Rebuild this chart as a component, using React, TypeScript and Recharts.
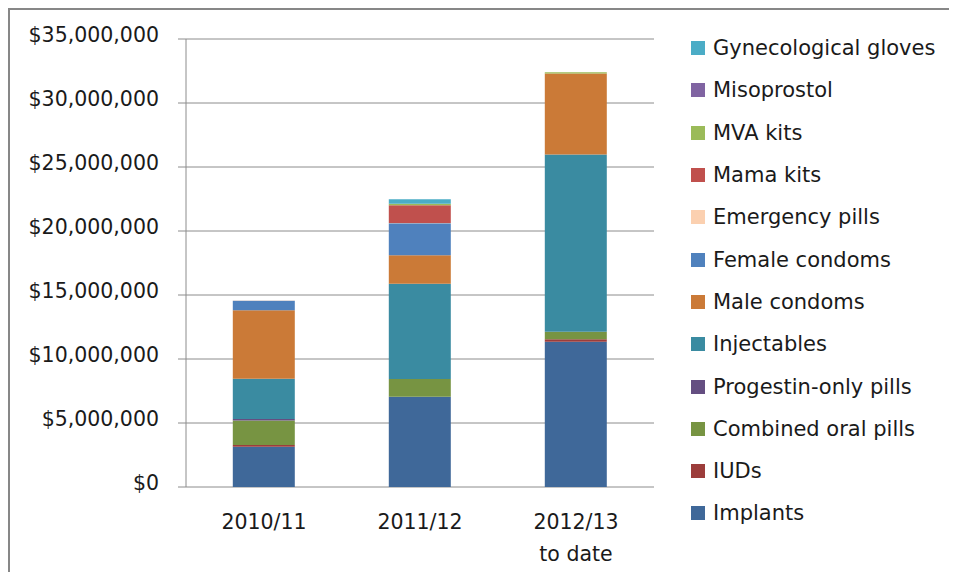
import React from 'react';
import { BarChart, Bar, XAxis, YAxis, CartesianGrid } from 'recharts';

const categories = ['2010/11', '2011/12', '2012/13\nto date'];

const implants = [3150000, 7050000, 11350000];
const iuds = [130000, 0, 200000];
const combinedOral = [1920000, 1380000, 570000];
const progestinOnly = [110000, 0, 0];
const injectables = [3150000, 7450000, 13860000];
const maleCondoms = [5340000, 2220000, 6330000];
const femaleCondoms = [760000, 2500000, 0];
const emergencyPills = [20000, 20000, 0];
const mamaKits = [0, 1400000, 0];
const mvaKits = [0, 100000, 100000];
const misoprostol = [0, 0, 0];
const gynGloves = [0, 370000, 0];

const yTicks = [0, 5000000, 10000000, 15000000, 20000000, 25000000, 30000000, 35000000];

// bottom to top, as stacked
const series = [
  { key: 'implants', name: 'Implants', color: '#3F6899', values: implants },
  { key: 'iuds', name: 'IUDs', color: '#9C3D3B', values: iuds },
  { key: 'combined', name: 'Combined oral pills', color: '#779442', values: combinedOral },
  { key: 'progestin', name: 'Progestin-only pills', color: '#644E81', values: progestinOnly },
  { key: 'injectables', name: 'Injectables', color: '#3A8BA1', values: injectables },
  { key: 'male', name: 'Male condoms', color: '#CB7A37', values: maleCondoms },
  { key: 'female', name: 'Female condoms', color: '#4F81BD', values: femaleCondoms },
  { key: 'emergency', name: 'Emergency pills', color: '#FBD0B0', values: emergencyPills },
  { key: 'mama', name: 'Mama kits', color: '#C0504D', values: mamaKits },
  { key: 'mva', name: 'MVA kits', color: '#9BBB59', values: mvaKits },
  { key: 'miso', name: 'Misoprostol', color: '#8064A2', values: misoprostol },
  { key: 'gloves', name: 'Gynecological gloves', color: '#4BACC6', values: gynGloves },
];

const data = categories.map((c, i) => {
  const row: Record<string, any> = { category: c };
  series.forEach((s) => {
    row[s.key] = s.values[i];
  });
  return row;
});

const FONT = '"DejaVu Sans", sans-serif';
const TEXT = '#1a1a1a';
const GRID = '#8c8c8c';

const fmt = (v: number) => '$' + v.toLocaleString('en-US');

const YTick = (props: any) => {
  const { x, y, payload } = props;
  return (
    <text x={x} y={y - 4} dy="0.355em" textAnchor="end" fill={TEXT} fontSize={20.5} fontFamily={FONT}>
      {fmt(payload.value)}
    </text>
  );
};

const XTick = (props: any) => {
  const { x, y, payload } = props;
  const lines = String(payload.value).split('\n');
  return (
    <text x={x} y={y} textAnchor="middle" fill={TEXT} fontSize={20.5} fontFamily={FONT}>
      {lines.map((l, i) => (
        <tspan key={i} x={x} dy={i === 0 ? '1.05em' : 32}>
          {l}
        </tspan>
      ))}
    </text>
  );
};

const LegendBox = () => (
  <div style={{ position: 'absolute', left: 681, top: 17, fontFamily: FONT, fontSize: 21, color: TEXT }}>
    {[...series].reverse().map((s) => (
      <div key={s.key} style={{ height: 42.3, display: 'flex', alignItems: 'center', whiteSpace: 'nowrap' }}>
        <span style={{ width: 14, height: 14, background: s.color, display: 'inline-block', marginRight: 8 }} />
        <span>{s.name}</span>
      </div>
    ))}
  </div>
);

export default function App() {
  return (
    <div
      style={{
        width: 949,
        height: 564,
        borderTop: '2px solid #878787',
        borderLeft: '2px solid #878787',
        boxSizing: 'border-box',
        position: 'relative',
        overflow: 'hidden',
        background: '#fff',
      }}
    >
      <BarChart
        width={947}
        height={562}
        data={data}
        margin={{ top: 29, right: 303, bottom: 0, left: 0 }}
        barCategoryGap="30%"
      >
        <CartesianGrid xAxisId="cat" vertical={false} stroke={GRID} strokeWidth={1} />
        <XAxis
          xAxisId="edges"
          type="number"
          domain={[0, 3]}
          ticks={[0, 1, 2, 3]}
          allowDataOverflow
          height={0}
          tick={false}
          tickSize={8}
          axisLine={{ stroke: GRID }}
          tickLine={{ stroke: GRID }}
        />
        <XAxis
          xAxisId="cat"
          dataKey="category"
          height={85}
          axisLine={false}
          tickLine={false}
          tickSize={0}
          tickMargin={20}
          tick={<XTick />}
          interval={0}
        />
        <YAxis
          width={176}
          domain={[0, 35000000]}
          ticks={yTicks}
          tickSize={8}
          tickMargin={19}
          axisLine={{ stroke: GRID }}
          tickLine={{ stroke: GRID }}
          tick={<YTick />}
        />
        {series.map((s) => (
          <Bar
            key={s.key}
            xAxisId="cat"
            dataKey={s.key}
            name={s.name}
            stackId="a"
            fill={s.color}
            isAnimationActive={false}
          />
        ))}
      </BarChart>
      <LegendBox />
    </div>
  );
}
